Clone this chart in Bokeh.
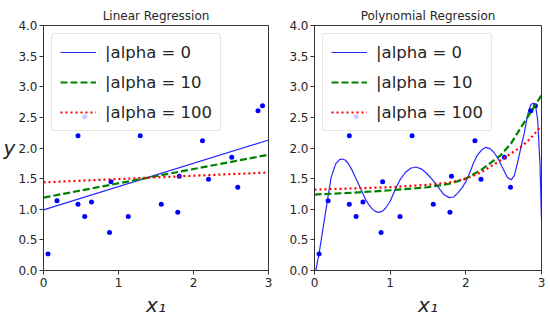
from bokeh.plotting import figure
from bokeh.layouts import row
from bokeh.models import FixedTicker, PrintfTickFormatter, Legend, LegendItem, Range1d
from bokeh.embed import file_html
from bokeh.resources import INLINE

# ---- data ----
X = [0.06, 0.18, 0.46, 0.46, 0.55, 0.55, 0.64, 0.88, 0.90, 1.13,
     1.29, 1.57, 1.79, 1.81, 2.12, 2.20, 2.51, 2.59, 2.86, 2.92]
Y = [0.27, 1.14, 1.08, 2.20, 0.88, 2.51, 1.12, 0.62, 1.45, 0.88,
     2.20, 1.08, 0.95, 1.54, 2.12, 1.49, 1.85, 1.36, 2.61, 2.69]

alpha_labels = ["|alpha = 0", "|alpha = 10", "|alpha = 100"]

# Linear regression predictions
lin_x = [0.0, 3.0]
lin_a0 = [0.99, 2.13]
lin_a10 = [1.19, 1.89]
lin_a100 = [1.44, 1.60]

# Polynomial regression predictions
poly0_x = [0.0, 0.06, 0.10, 0.17, 0.22, 0.28, 0.33, 0.37, 0.41, 0.45, 0.50, 0.56,
           0.62, 0.67, 0.72, 0.76, 0.81, 0.85, 0.90, 0.94, 1.00, 1.07, 1.13, 1.20,
           1.27, 1.34, 1.41, 1.47, 1.54, 1.60, 1.66, 1.71, 1.78, 1.84, 1.89, 1.95,
           2.00, 2.06, 2.10, 2.15, 2.21, 2.26, 2.32, 2.37, 2.43, 2.48, 2.55, 2.60,
           2.64, 2.68, 2.73, 2.77, 2.80, 2.83, 2.86, 2.89, 2.92, 2.95, 2.98, 3.00]
poly0_y = [-0.10, 0.27, 0.59, 1.14, 1.52, 1.74, 1.81, 1.82, 1.80, 1.74, 1.63, 1.47,
           1.31, 1.17, 1.07, 1.01, 0.96, 0.95, 0.97, 1.02, 1.13, 1.33, 1.48, 1.60,
           1.67, 1.69, 1.66, 1.60, 1.51, 1.42, 1.32, 1.24, 1.19, 1.20, 1.26, 1.35,
           1.45, 1.62, 1.75, 1.88, 1.97, 2.01, 1.99, 1.93, 1.82, 1.69, 1.52, 1.48,
           1.55, 1.74, 2.02, 2.23, 2.43, 2.61, 2.71, 2.73, 2.71, 2.45, 1.74, 0.84]
poly10_x = [0.0, 0.5, 1.0, 1.5, 1.8, 2.0, 2.2, 2.46, 2.6, 2.72, 2.85, 3.0]
poly10_y = [1.24, 1.27, 1.31, 1.36, 1.42, 1.50, 1.64, 1.88, 2.08, 2.32, 2.57, 2.86]
poly100_x = [0.0, 0.5, 1.0, 1.5, 1.8, 2.0, 2.2, 2.46, 2.72, 2.85, 3.0]
poly100_y = [1.32, 1.34, 1.36, 1.40, 1.44, 1.50, 1.60, 1.80, 2.01, 2.15, 2.36]

x_ticks = [0, 1, 2, 3]
y_ticks = [0.0, 0.5, 1.0, 1.5, 2.0, 2.5, 3.0, 3.5, 4.0]

FONT = "DejaVu Sans"
SPINE = "#333333"
TXT = "#262626"


def make_fig(width, border_left, border_right, title, ylabel, xs, ys_list):
    p = figure(width=width, height=328, x_range=Range1d(0, 3), y_range=Range1d(0, 4),
               output_backend="svg", toolbar_location=None,
               min_border_left=border_left, min_border_right=border_right,
               min_border_top=25, min_border_bottom=58)
    p.title.text = title
    p.title.text_font = FONT
    p.title.text_font_size = "12px"
    p.title.text_font_style = "normal"
    p.title.align = "center"
    p.title.text_color = TXT
    p.title.standoff = 6
    p.grid.visible = False
    p.outline_line_color = SPINE
    p.outline_line_width = 1
    p.background_fill_color = "white"
    p.border_fill_color = "white"
    for ax in (p.xaxis[0], p.yaxis[0]):
        ax.axis_line_color = SPINE
        ax.major_tick_line_color = SPINE
        ax.major_tick_out = 4
        ax.major_tick_in = 0
        ax.minor_tick_line_color = None
        ax.major_label_text_font = FONT
        ax.major_label_text_font_size = "12px"
        ax.major_label_text_color = TXT
        ax.major_label_standoff = 3
        ax.axis_label_text_font = FONT
        ax.axis_label_text_font_size = "20px"
        ax.axis_label_text_font_style = "italic"
        ax.axis_label_text_color = TXT
    p.yaxis.major_label_standoff = 2
    p.xaxis.ticker = FixedTicker(ticks=x_ticks)
    p.xaxis.formatter = PrintfTickFormatter(format="%d")
    p.yaxis.ticker = FixedTicker(ticks=y_ticks)
    p.yaxis.formatter = PrintfTickFormatter(format="%.1f")
    p.xaxis.axis_label = "x\u2081"
    p.xaxis.axis_label_standoff = 3
    if ylabel:
        p.yaxis.axis_label = ylabel
        p.yaxis.axis_label_orientation = "horizontal"
        p.yaxis.axis_label_standoff = 0

    p.scatter(X, Y, size=5, color="#0000ff", line_color=None)
    (x0, y0), (x1, y1), (x2, y2) = zip(xs, ys_list)
    r0 = p.line(x0, y0, line_color="#0000ff", line_width=1.2, line_alpha=0.85)
    r1 = p.line(x1, y1, line_color="#008000", line_width=2.2, line_dash="7 3")
    r2 = p.line(x2, y2, line_color="#ff0000", line_width=2.2, line_dash="2 3")
    legend = Legend(items=[LegendItem(label=alpha_labels[0], renderers=[r0]),
                           LegendItem(label=alpha_labels[1], renderers=[r1]),
                           LegendItem(label=alpha_labels[2], renderers=[r2])],
                    location="top_left")
    legend.margin = 8
    legend.padding = 8
    legend.spacing = 10
    legend.glyph_width = 36
    legend.glyph_height = 20
    legend.label_height = 20
    legend.label_standoff = 9
    legend.label_text_font = FONT
    legend.label_text_font_size = "16.5px"
    legend.label_text_color = TXT
    legend.border_line_color = "#cccccc"
    legend.border_line_width = 1
    legend.background_fill_alpha = 0.8
    legend.border_radius = 3
    p.add_layout(legend)
    return p


p1 = make_fig(284, 41, 16, "Linear Regression", "y",
              [lin_x, lin_x, lin_x], [lin_a0, lin_a10, lin_a100])
p2 = make_fig(266, 30, 9, "Polynomial Regression", None,
              [poly0_x, poly10_x, poly100_x], [poly0_y, poly10_y, poly100_y])

layout = row(p1, p2)
open("out.html", "w").write(file_html(layout, INLINE))
